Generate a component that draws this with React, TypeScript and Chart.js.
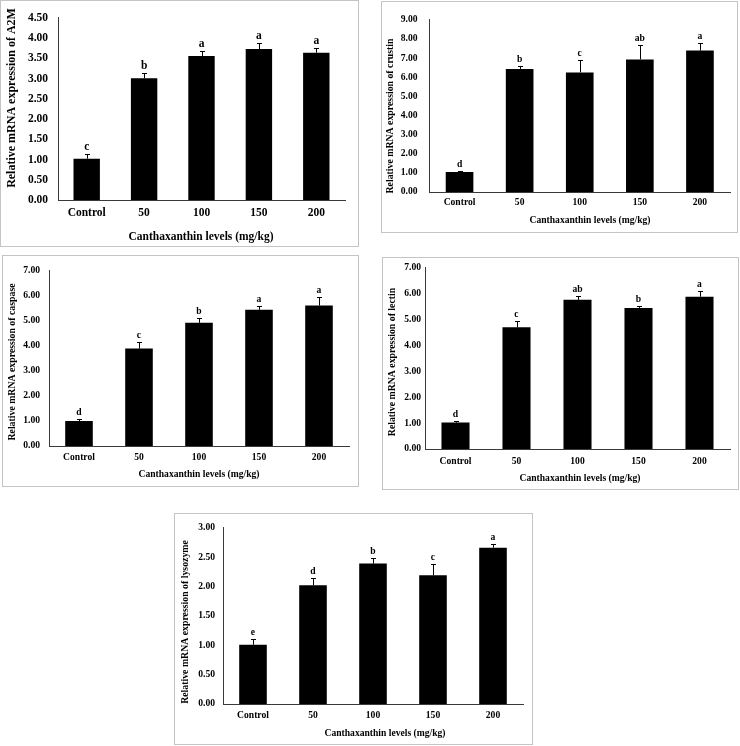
import React, { useEffect, useRef } from "react";
import { Chart, registerables } from "chart.js";

Chart.register(...registerables);

// Shared category axis
const categories = ["Control", "50", "100", "150", "200"];
const xTitle = "Canthaxanthin levels (mg/kg)";

// A2M
const a2mMeans = [1.02, 3.01, 3.56, 3.73, 3.64];
const a2mErrors = [0.11, 0.14, 0.12, 0.15, 0.12];
const a2mLetters = ["c", "b", "a", "a", "a"];

// crustin
const crustinMeans = [1.05, 6.43, 6.25, 6.93, 7.39];
const crustinErrors = [0.05, 0.13, 0.63, 0.73, 0.4];
const crustinLetters = ["d", "b", "c", "ab", "a"];

// caspase
const caspaseMeans = [1.0, 3.89, 4.92, 5.44, 5.61];
const caspaseErrors = [0.06, 0.27, 0.18, 0.14, 0.35];
const caspaseLetters = ["d", "c", "b", "a", "a"];

// lectin
const lectinMeans = [1.02, 4.7, 5.76, 5.45, 5.88];
const lectinErrors = [0.05, 0.25, 0.14, 0.07, 0.22];
const lectinLetters = ["d", "c", "ab", "b", "a"];

// lysozyme
const lysozymeMeans = [1.01, 2.02, 2.39, 2.19, 2.66];
const lysozymeErrors = [0.09, 0.12, 0.1, 0.19, 0.07];
const lysozymeLetters = ["e", "d", "b", "c", "a"];

// y-axis ranges: [max, step]
const a2mAxis = [4.5, 0.5];
const crustinAxis = [9, 1];
const caspaseAxis = [7, 1];
const lectinAxis = [7, 1];
const lysozymeAxis = [3, 0.5];

const FAMILY = "'Liberation Serif', 'Times New Roman', serif";

type Box = { x: number; y: number; w: number; h: number };
type Frame = { left: number; right: number; top: number; bottom: number };

interface PanelProps {
  box: Box;
  plot: Frame;
  yLabel: string;
  means: number[];
  errors: number[];
  letters: string[];
  axis: number[];
  fontSize: number;
  yTitleSize: number;
  yTitleAt: [number, number];
  xTitleAt: [number, number];
  yTickPad: number;
  xTickPad: number;
}

function Panel(p: PanelProps) {
  const ref = useRef<HTMLCanvasElement>(null);

  useEffect(() => {
    const canvas = ref.current;
    if (!canvas) return;
    const cw = p.box.w - 2;
    const ch = p.box.h - 2;
    const ox = p.box.x + 1;
    const oy = p.box.y + 1;
    const left = p.plot.left - ox;
    const right = p.plot.right - ox;
    const top = p.plot.top - oy;
    const bottom = p.plot.bottom - oy;
    const font = { family: FAMILY, size: p.fontSize, weight: "bold" as const };

    // error bars, significance letters and axis titles
    const overlay = {
      id: "panelOverlay",
      afterDatasetsDraw(chart: any) {
        const ctx = chart.ctx as CanvasRenderingContext2D;
        const yScale = chart.scales.y;
        const meta = chart.getDatasetMeta(0);
        ctx.save();
        ctx.strokeStyle = "#000";
        ctx.fillStyle = "#000";
        ctx.lineWidth = 1;
        meta.data.forEach((bar: any, i: number) => {
          const x = Math.round(bar.x) + 0.5;
          const yVal = yScale.getPixelForValue(p.means[i]);
          const yTop = Math.round(yScale.getPixelForValue(p.means[i] + p.errors[i])) + 0.5;
          ctx.beginPath();
          ctx.moveTo(x, yVal);
          ctx.lineTo(x, yTop);
          ctx.moveTo(x - 2.5, yTop);
          ctx.lineTo(x + 2.5, yTop);
          ctx.stroke();
          ctx.font = `bold ${p.fontSize}px ${FAMILY}`;
          ctx.textAlign = "center";
          ctx.textBaseline = "alphabetic";
          ctx.fillText(p.letters[i], bar.x, yTop - 5);
        });
        ctx.textAlign = "center";
        ctx.textBaseline = "middle";
        ctx.font = `bold ${p.fontSize}px ${FAMILY}`;
        ctx.fillText(xTitle, p.xTitleAt[0] - ox, p.xTitleAt[1] - oy);
        ctx.font = `bold ${p.yTitleSize}px ${FAMILY}`;
        ctx.translate(p.yTitleAt[0] - ox, p.yTitleAt[1] - oy);
        ctx.rotate(-Math.PI / 2);
        ctx.fillText(p.yLabel, 0, 0);
        ctx.restore();
      },
    };

    const chart = new Chart(canvas, {
      type: "bar",
      data: {
        labels: categories,
        datasets: [
          {
            data: p.means,
            backgroundColor: "#000",
            borderWidth: 0,
            barPercentage: 0.46,
            categoryPercentage: 1,
          },
        ],
      },
      options: {
        responsive: false,
        animation: false,
        devicePixelRatio: 1,
        layout: { padding: { left: 0, top, right: cw - right, bottom: 0 } },
        plugins: { legend: { display: false }, tooltip: { enabled: false } },
        scales: {
          x: {
            type: "category",
            offset: true,
            grid: { display: false, drawTicks: false },
            border: { display: true, color: "#3a3a3a", width: 1 },
            ticks: { color: "#000", font, padding: p.xTickPad, maxRotation: 0, autoSkip: false },
            afterFit: (s: any) => {
              s.height = ch - bottom;
            },
          },
          y: {
            min: 0,
            max: p.axis[0],
            grid: { display: false, drawTicks: false },
            border: { display: true, color: "#3a3a3a", width: 1 },
            ticks: {
              stepSize: p.axis[1],
              color: "#000",
              font,
              padding: p.yTickPad,
              callback: (v: any) => Number(v).toFixed(2),
            },
            afterFit: (s: any) => {
              s.width = left;
            },
          },
        },
      },
      plugins: [overlay],
    });
    return () => chart.destroy();
  }, []);

  return (
    <div
      style={{
        position: "absolute",
        left: p.box.x,
        top: p.box.y,
        width: p.box.w,
        height: p.box.h,
        border: "1px solid #c4c4c4",
        boxSizing: "border-box",
        background: "#fff",
      }}
    >
      <canvas
        ref={ref}
        width={p.box.w - 2}
        height={p.box.h - 2}
        style={{ display: "block", width: p.box.w - 2, height: p.box.h - 2 }}
      />
    </div>
  );
}

export default function App() {
  return (
    <div style={{ position: "absolute", left: 0, top: 0, width: 740, height: 746, background: "#fff" }}>
      <Panel
        box={{ x: 0, y: 0, w: 359, h: 247 }}
        plot={{ left: 58, right: 345, top: 12, bottom: 200 }}
        yLabel="Relative mRNA expression of A2M"
        means={a2mMeans}
        errors={a2mErrors}
        letters={a2mLetters}
        axis={a2mAxis}
        fontSize={11.5}
        yTitleSize={12}
        yTitleAt={[12, 98]}
        xTitleAt={[201, 237]}
        yTickPad={10}
        xTickPad={6}
      />
      <Panel
        box={{ x: 381, y: 1, w: 357, h: 232 }}
        plot={{ left: 429.5, right: 730, top: 10, bottom: 192 }}
        yLabel="Relative mRNA expression of crustin"
        means={crustinMeans}
        errors={crustinErrors}
        letters={crustinLetters}
        axis={crustinAxis}
        fontSize={9.6}
        yTitleSize={9.8}
        yTitleAt={[390, 116]}
        xTitleAt={[590, 221]}
        yTickPad={12}
        xTickPad={5}
      />
      <Panel
        box={{ x: 2, y: 255, w: 357, h: 232 }}
        plot={{ left: 49, right: 349, top: 265, bottom: 446 }}
        yLabel="Relative mRNA expression of caspase"
        means={caspaseMeans}
        errors={caspaseErrors}
        letters={caspaseLetters}
        axis={caspaseAxis}
        fontSize={9.6}
        yTitleSize={9.8}
        yTitleAt={[12, 362]}
        xTitleAt={[199, 475]}
        yTickPad={9}
        xTickPad={6}
      />
      <Panel
        box={{ x: 382, y: 257, w: 357, h: 233 }}
        plot={{ left: 425, right: 730, top: 267, bottom: 449 }}
        yLabel="Relative mRNA expression of lectin"
        means={lectinMeans}
        errors={lectinErrors}
        letters={lectinLetters}
        axis={lectinAxis}
        fontSize={9.6}
        yTitleSize={9.8}
        yTitleAt={[392, 362]}
        xTitleAt={[580, 479]}
        yTickPad={4}
        xTickPad={7}
      />
      <Panel
        box={{ x: 174, y: 513, w: 359, h: 232 }}
        plot={{ left: 223, right: 523, top: 523, bottom: 704 }}
        yLabel="Relative mRNA expression of lysozyme"
        means={lysozymeMeans}
        errors={lysozymeErrors}
        letters={lysozymeLetters}
        axis={lysozymeAxis}
        fontSize={9.6}
        yTitleSize={9.8}
        yTitleAt={[185, 622]}
        xTitleAt={[385, 734]}
        yTickPad={8}
        xTickPad={6}
      />
    </div>
  );
}
